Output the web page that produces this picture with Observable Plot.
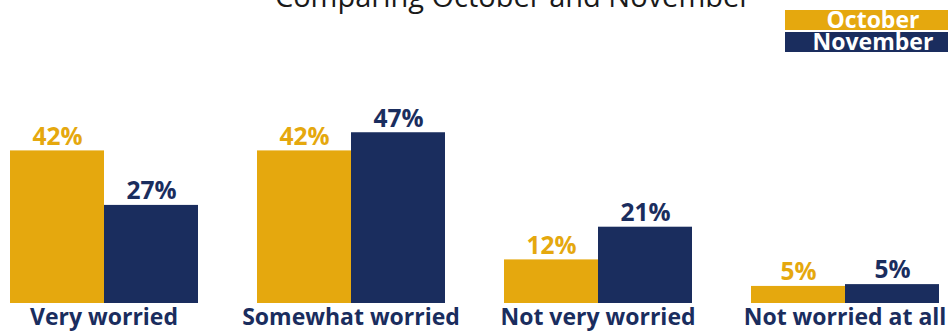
<!DOCTYPE html>
<html>
<head>
<meta charset="utf-8">
<script src="https://cdn.jsdelivr.net/npm/d3@7"></script>
<script src="https://cdn.jsdelivr.net/npm/@observablehq/plot@0.6"></script>
<style>
  html, body { margin: 0; padding: 0; background: #fff; }
  #wrap { position: relative; width: 948px; height: 334px; overflow: hidden; font-family: "Open Sans", sans-serif; }
  #title { position: absolute; left: 513px; top: -19px; transform: translateX(-50%); white-space: nowrap;
           font-size: 29px; line-height: 29px; font-weight: 400; color: #1a1a1a; }
  .leg { position: absolute; left: 785px; width: 176px; height: 20px; text-align: center; }
  .leg span { display: block; line-height: 18px; color: #fff; font-weight: 700; font-size: 23px; white-space: nowrap; }
  #chart { position: absolute; left: 0; top: 0; }
</style>
</head>
<body>
<div id="wrap">
  <div id="chart"></div>
  <div id="title"></div>
  <div id="legend"></div>
</div>
<script>
const title = "Comparing October and November";
const categories = ["Very worried", "Somewhat worried", "Not very worried", "Not worried at all"];
const seriesNames = ["October", "November"];
const october = [42, 42, 12, 4.7];
const november = [27, 47, 21, 5.2];
const colors = ["#E5A80E", "#1A2D5E"];

const data = [];
categories.forEach((c, i) => {
  data.push({category: c, series: seriesNames[0], value: october[i]});
  data.push({category: c, series: seriesNames[1], value: november[i]});
});

document.getElementById("title").textContent = title;
const legend = document.getElementById("legend");
seriesNames.forEach((s, i) => {
  const d = document.createElement("div");
  d.className = "leg";
  d.style.top = (10 + i * 22) + "px";
  d.style.background = colors[i];
  const sp = document.createElement("span");
  sp.textContent = s;
  d.appendChild(sp);
  legend.appendChild(d);
});

const chart = Plot.plot({
  width: 948,
  height: 334,
  marginTop: 0,
  marginBottom: 31,
  marginLeft: 8,
  marginRight: 7,
  style: {fontFamily: "Open Sans", background: "transparent", overflow: "visible"},
  fx: {domain: categories, paddingInner: 0.233, paddingOuter: 0, axis: null},
  x: {domain: seriesNames, padding: 0, axis: null},
  y: {domain: [0, 83.4], axis: null},
  color: {domain: seriesNames, range: colors},
  marks: [
    Plot.barY(data, {fx: "category", x: "series", y: "value", fill: "series", inset: 0}),
    Plot.text(data, {fx: "category", x: "series", y: "value", text: d => Math.round(d.value) + "%",
      fill: "series", dy: -14, fontSize: 24.5, fontWeight: "bold"}),
    Plot.text(categories, {fx: d => d, text: d => d, frameAnchor: "bottom", dy: 21,
      fill: colors[1], fontSize: 23, fontWeight: "bold"})
  ]
});
document.getElementById("chart").appendChild(chart);
</script>
</body>
</html>
